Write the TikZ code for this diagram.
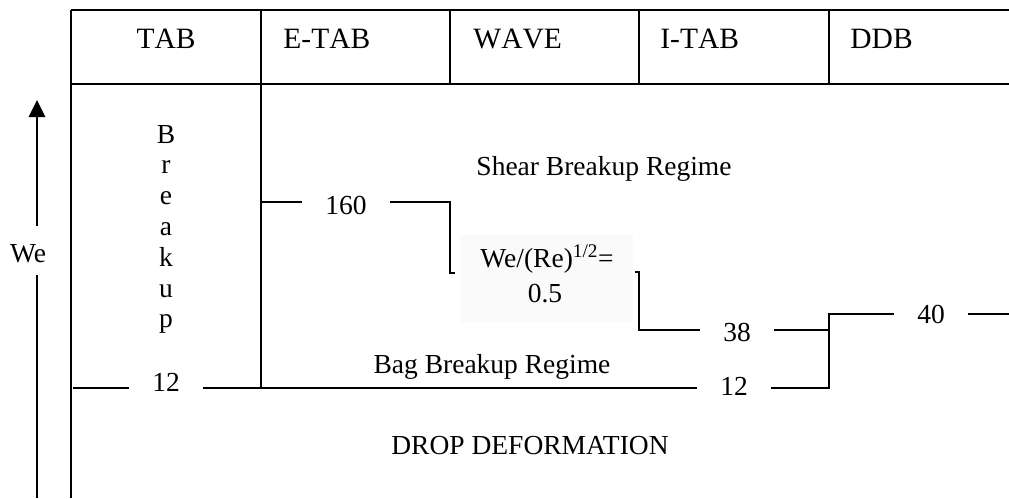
\documentclass[tikz,border=0pt]{standalone}
\usepackage{fontspec}
\setmainfont{Liberation Serif}
\usetikzlibrary{arrows.meta}
\begin{document}
\begin{tikzpicture}[x=1pt,y=-1pt,line width=2.8pt,line join=miter,
  lbl/.style={font=\fontsize{27.5}{33}\selectfont,inner sep=0pt},
  head/.style={font=\fontsize{29.5}{35}\selectfont\addfontfeatures{Kerning=Off},inner sep=0pt,anchor=base west},
  num/.style={lbl,inner xsep=22pt},
  uparrow/.style={-{Triangle[length=17pt,width=16pt]}}]
\useasboundingbox (0,0) rectangle (1009,498);
% light box behind the formula
\fill[black!2] (460,235) rectangle (633,322);
% table frame
\draw (71,10) -- (1009,10);
\draw (71,84) -- (1009,84);
\draw (71,10) -- (71,498);
\foreach \x in {261,450,639,829} \draw (\x,10) -- (\x,84);
\draw (261,84) -- (261,388);
% header texts
\node[head,anchor=base] (tab) at (166,48.5) {TAB};
\node[head] (etab) at (282,48.5) {E-TAB};
\node[head] (wave) at (472,48.5) {WAVE};
\node[head] (itab) at (659,48.5) {I-TAB};
\node[head] (ddb) at (849,48.5) {DDB};
% vertical Breakup
\foreach \l [count=\i] in {B,r,e,a,k,u,p}
  \node[lbl,anchor=base] (bk\i) at (166,{143+30.8*(\i-1)}) {\l};
% regime labels
\node[lbl,anchor=base] (shear) at (604,175) {Shear Breakup Regime};
\node[lbl,anchor=base] (bag) at (492,373) {Bag Breakup Regime};
\node[lbl,anchor=base] (drop) at (530,454) {DROP DEFORMATION};
\node[lbl,anchor=base] (fa) at (547,267) {We/(Re)\textsuperscript{1/2}=};
\node[lbl,anchor=base] (fb) at (545,302) {0.5};
% numbers
\node[num] (n12a) at (166,382) {12};
\node[num] (n12b) at (734,386) {12};
\node[num] (n160) at (346,205) {160};
\node[num] (n38) at (737,332) {38};
\node[num] (n40) at (931,314) {40};
% boundary coordinates
\coordinate (l12) at (73,388);
\coordinate (s12) at (829,388);
\coordinate (s40) at (829,314);
\coordinate (e40) at (1009,314);
\coordinate (l160) at (261,202);
\coordinate (c160) at (450,202);
\coordinate (b160) at (450,273);
\coordinate (t160) at (455,273);
\coordinate (t38) at (635,272);
\coordinate (c38a) at (639,272);
\coordinate (c38b) at (639,330);
\coordinate (e38) at (829,330);
% Bag / deformation boundary (We = 12)
\draw (l12) -- (l12 -| n12a.west);
\draw (n12a.east |- l12) -- (l12 -| n12b.west);
\draw (n12b.east |- l12) -- (s12) -- (s40) -- (s40 -| n40.west);
\draw (n40.east |- e40) -- (e40);
% 160 boundary
\draw (l160) -- (l160 -| n160.west);
\draw (n160.east |- l160) -- (c160) -- (b160) -- (t160);
% 38 boundary
\draw (t38) -- (c38a) -- (c38b) -- (c38b -| n38.west);
\draw (n38.east |- c38b) -- (e38);
% We axis
\node[lbl,anchor=base] (we) at (28,262) {We};
\coordinate (atop) at (37,100);
\coordinate (abot) at (37,498);
\path (we.north -| atop) ++(0,-17) coordinate (a1);
\path (we.south -| atop) ++(0,11) coordinate (a2);
\draw[uparrow] (a1) -- (atop);
\draw (a2) -- (abot);
\end{tikzpicture}
\end{document}
